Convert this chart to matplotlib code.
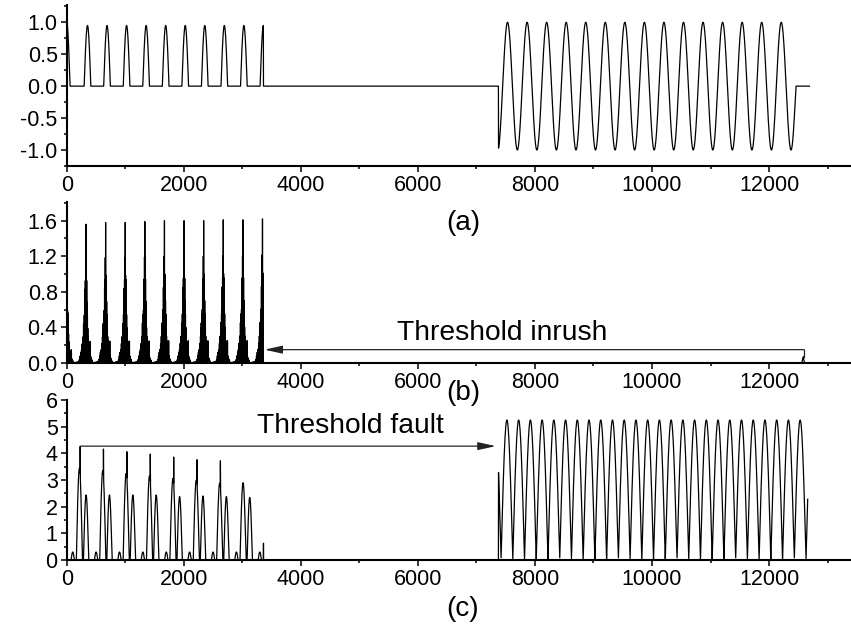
import numpy as np
import matplotlib.pyplot as plt
from matplotlib.ticker import MultipleLocator

plt.rcParams['font.family'] = ['Liberation Sans', 'DejaVu Sans']

# ---- values ----
# (a) current: inrush half-wave pulses, then a fault sine
inrush_centres = [0, 355, 689, 1023, 1357, 1691, 2025, 2359, 2693, 3027, 3361]
inrush_peaks = [1.0, 0.95, 0.95, 0.95, 0.95, 0.95, 0.95, 0.95, 0.95, 0.95, 0.95]
inrush_half_width = 57
inrush_end = 3361
fault_start = 7378
fault_end = 12458
fault_trough = 7365
fault_period = 334
fault_amp = 1.0
record_end = 12690

# (b) detail coefficients: one burst per inrush pulse
burst_centres = [8, 330, 665, 1000, 1335, 1670, 2005, 2340, 2675, 3010, 3345]
burst_peaks = [0.95, 1.56, 1.58, 1.58, 1.59, 1.60, 1.60, 1.60, 1.61, 1.61, 1.62]
burst_offsets = [-120, -114, -108, -102, -96, -90, -84, -78, -72, -66, -60, -54, -48, -42, -36, -30,
                 -24, -18, -12, -6, 0, 6, 12, 18, 24, 30, 36, 42, 48, 54, 60, 66, 72, 78, 84, 90,
                 96, 102, 108, 114, 120]
burst_shape = [0.02, 0.04, 0.03, 0.08, 0.05, 0.12, 0.06, 0.15, 0.10, 0.22, 0.15, 0.30, 0.25, 0.45,
               0.40, 0.55, 0.60, 0.85, 0.95, 1.20, 1.60, 1.00, 0.95, 0.70, 0.55, 0.40, 0.30, 0.25,
               0.20, 0.15, 0.12, 0.10, 0.25, 0.08, 0.06, 0.05, 0.04, 0.03, 0.02, 0.01, 0.0]
blip_centre = 12585
blip_offsets = [-24, -16, -10, -5, 0, 5, 10, 16, 24]
blip_values = [0.01, 0.03, 0.05, 0.04, 0.07, 0.05, 0.03, 0.02, 0.0]

# (c) fault index
cycle_starts = [103, 502, 902, 1301, 1701, 2100, 2500, 2899, 3299]
small_peaks = [0.3, 0.3, 0.3, 0.3, 0.3, 0.3, 0.3, 0.3, 0.3]
big_peaks = [3.44, 3.35, 3.25, 3.16, 3.06, 3.0, 2.88, 2.9]
spike_peaks = [4.25, 4.16, 4.06, 3.97, 3.86, 3.76, 3.72]
medium_peaks = [2.44, 2.44, 2.44, 2.44, 2.38, 2.4, 2.38, 2.35]
last_spike = (3362, 0.63)
c_fault_start = 7378
c_fault_zero = 7421
c_fault_period = 200.4
c_fault_amp = 5.25
c_fault_end = 12660

threshold_inrush = 0.15
threshold_fault = 4.27

# ---- build traces ----
x = np.arange(0, record_end + 1, 2.0)

ya = np.zeros_like(x)
for c, p in zip(inrush_centres, inrush_peaks):
    d = np.abs(x - c)
    m = (d < inrush_half_width) & (x <= inrush_end)
    ya[m] = p * np.cos(np.pi / 2 * d[m] / inrush_half_width)
m = (x >= fault_start) & (x <= fault_end)
ya[m] = -fault_amp * np.cos(2 * np.pi * (x[m] - fault_trough) / fault_period)
# vertical cut-off at last inrush peak
xa = np.concatenate([x[x <= inrush_end], [inrush_end], x[x > inrush_end]])
ya = np.concatenate([ya[x <= inrush_end], [0.0], ya[x > inrush_end]])

xb, yb = [0.0], [0.0]
for c, p in zip(burst_centres, burst_peaks):
    for o, s in zip(burst_offsets, burst_shape):
        xo = c + o
        if xo < 0 or (c == burst_centres[-1] and o > 6):
            continue
        xb += [xo, xo + 3]
        yb += [s * p / 1.6, 0.0]
xb += [burst_centres[-1] + 8, blip_centre - 30]
yb += [0.0, 0.0]
for o, v in zip(blip_offsets, blip_values):
    xb.append(blip_centre + o)
    yb.append(v)
xb.append(record_end)
yb.append(0.0)

yc = np.zeros_like(x)
for k, s in enumerate(cycle_starts):
    for off, hw, peaks in ((0, 28, small_peaks), (114, 52, big_peaks), (228, 45, medium_peaks)):
        if k >= len(peaks):
            continue
        d = x - (s + off)
        mm = np.abs(d) < hw
        yc[mm] = np.maximum(yc[mm], peaks[k] * np.cos(np.pi / 2 * d[mm] / hw))
for k, sp in enumerate(spike_peaks):
    i = int(np.searchsorted(x, cycle_starts[k] + 114 + 12))
    yc[i] = sp
i = int(np.searchsorted(x, last_spike[0]))
yc[i] = last_spike[1]
mf = (x >= c_fault_start) & (x <= c_fault_end)
yc[mf] = c_fault_amp * np.abs(np.sin(np.pi * (x[mf] - c_fault_zero) / c_fault_period))
keep = x <= c_fault_end
xc, yc = x[keep], yc[keep]

# ---- figure ----
fig = plt.figure(figsize=(8.51, 6.27), dpi=100)
H = 627.0
W = 851.0
def axes_at(top_px, bottom_px):
    return fig.add_axes([66.7 / W, 1 - bottom_px / H, 1 - 66.7 / W, (bottom_px - top_px) / H])

ax_a = axes_at(5, 166)
ax_b = axes_at(202, 363)
ax_c = axes_at(400, 560)

ax_a.plot(xa, ya, color='black', lw=0.9)
ax_b.plot(xb, yb, color='black', lw=0.9)
ax_c.plot(xc, yc, color='black', lw=0.9)

ax_a.set_ylim(-1.25, 1.27)
ax_b.set_ylim(0, 1.81)
ax_c.set_ylim(0, 6)
ax_a.yaxis.set_major_locator(MultipleLocator(0.5))
ax_a.yaxis.set_minor_locator(MultipleLocator(0.25))
ax_a.yaxis.set_major_formatter(plt.FormatStrFormatter('%.1f'))
ax_b.yaxis.set_major_locator(MultipleLocator(0.4))
ax_b.yaxis.set_minor_locator(MultipleLocator(0.2))
ax_b.yaxis.set_major_formatter(plt.FormatStrFormatter('%.1f'))
ax_c.yaxis.set_major_locator(MultipleLocator(1))
ax_c.yaxis.set_minor_locator(MultipleLocator(0.5))

for ax in (ax_a, ax_b, ax_c):
    ax.set_xlim(0, 13400)
    ax.xaxis.set_major_locator(MultipleLocator(2000))
    ax.xaxis.set_minor_locator(MultipleLocator(1000))
    for s in ('top', 'right'):
        ax.spines[s].set_visible(False)
    for s in ('left', 'bottom'):
        ax.spines[s].set_linewidth(1.5)
    ax.tick_params(which='major', direction='out', length=4.5, width=1.1, labelsize=15.5, pad=2)
    ax.tick_params(which='minor', direction='out', length=2.5, width=1.1)
    ax.patch.set_alpha(0)

# labels
fig.text(463 / W, 1 - 223 / H, '(a)', ha='center', va='center', fontsize=20)
fig.text(463 / W, 1 - 393 / H, '(b)', ha='center', va='center', fontsize=20)
fig.text(463 / W, 1 - 609 / H, '(c)', ha='center', va='center', fontsize=20)

# threshold arrows
arrow = dict(arrowstyle='-|>,head_length=0.9,head_width=0.2', color='#222222', lw=0.9,
             mutation_scale=12, shrinkA=0, shrinkB=0)
ax_b.annotate('', xy=(3380, threshold_inrush), xytext=(12600, threshold_inrush), arrowprops=arrow)
ax_b.plot([12600, 12600], [threshold_inrush, 0.07], color='#222222', lw=0.9)
ax_b.text(397 / W, 1 - 340 / H, 'Threshold inrush', transform=fig.transFigure,
          fontsize=20.3, ha='left', va='baseline')
ax_c.annotate('', xy=(7330, threshold_fault), xytext=(227, threshold_fault), arrowprops=arrow)
ax_c.text(257 / W, 1 - 433 / H, 'Threshold fault', transform=fig.transFigure,
          fontsize=20.3, ha='left', va='baseline')

fig.savefig('out.png', dpi=100)
